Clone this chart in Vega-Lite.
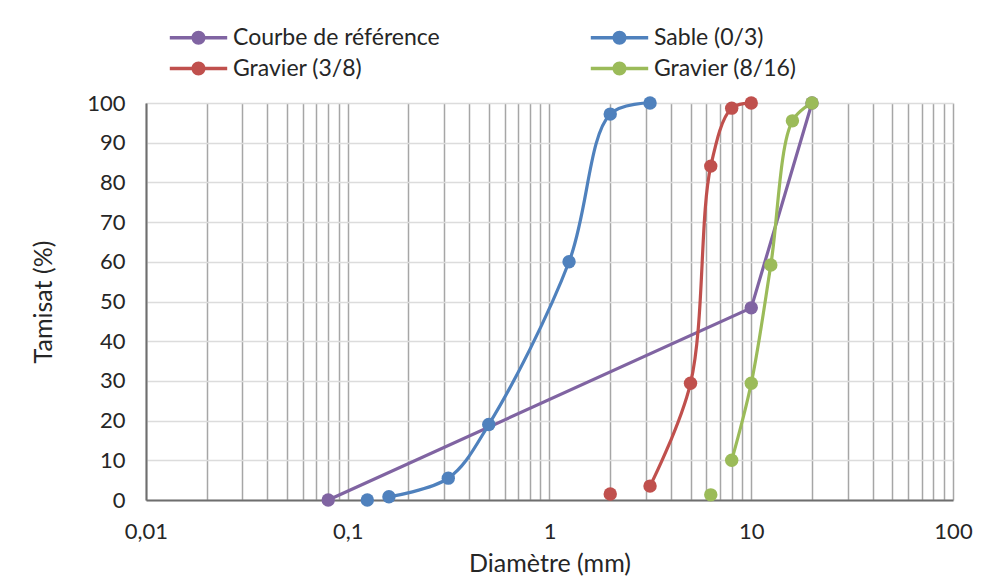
{
  "$schema": "https://vega.github.io/schema/vega-lite/v6.json",
  "autosize": "none",
  "width": 807,
  "height": 397,
  "padding": {"left": 146, "top": 103, "right": 29, "bottom": 86},
  "background": "white",
  "data": {
    "values": [
      {"serie": "Courbe de référence", "d": 0.08, "t": 0, "n": 1},
      {"serie": "Courbe de référence", "d": 10, "t": 48.4, "n": 2},
      {"serie": "Courbe de référence", "d": 20, "t": 100, "n": 3},
      {"serie": "Sable (0/3)", "d": 0.125, "t": 0, "n": 1},
      {"serie": "Sable (0/3)", "d": 0.16, "t": 0.8, "n": 2},
      {"serie": "Sable (0/3)", "d": 0.315, "t": 5.5, "n": 3},
      {"serie": "Sable (0/3)", "d": 0.5, "t": 19, "n": 4},
      {"serie": "Sable (0/3)", "d": 1.25, "t": 60, "n": 5},
      {"serie": "Sable (0/3)", "d": 2, "t": 97.2, "n": 6},
      {"serie": "Sable (0/3)", "d": 3.15, "t": 100, "n": 7},
      {"serie": "Gravier (3/8)", "d": 2, "t": 1.5, "n": 1},
      {"serie": "Gravier (3/8)", "d": 3.15, "t": 3.5, "n": 2},
      {"serie": "Gravier (3/8)", "d": 5, "t": 29.4, "n": 3},
      {"serie": "Gravier (3/8)", "d": 6.3, "t": 84.1, "n": 4},
      {"serie": "Gravier (3/8)", "d": 8, "t": 98.7, "n": 5},
      {"serie": "Gravier (3/8)", "d": 10, "t": 100, "n": 6},
      {"serie": "Gravier (8/16)", "d": 6.3, "t": 1.3, "n": 1},
      {"serie": "Gravier (8/16)", "d": 8, "t": 10, "n": 2},
      {"serie": "Gravier (8/16)", "d": 10, "t": 29.4, "n": 3},
      {"serie": "Gravier (8/16)", "d": 12.5, "t": 59.2, "n": 4},
      {"serie": "Gravier (8/16)", "d": 16, "t": 95.5, "n": 5},
      {"serie": "Gravier (8/16)", "d": 20, "t": 100, "n": 6}
    ]
  },
  "encoding": {
    "x": {
      "field": "d", "type": "quantitative",
      "scale": {"type": "log", "domain": [0.01, 100], "nice": false},
      "axis": {
        "title": "Diamètre (mm)",
        "values": [0.01,0.02,0.03,0.04,0.05,0.06,0.07,0.08,0.09,0.1,0.2,0.3,0.4,0.5,0.6,0.7,0.8,0.9,1,2,3,4,5,6,7,8,9,10,20,30,40,50,60,70,80,90,100],
        "labelExpr": "indexof([0.01,0.1,1,10,100], datum.value) >= 0 ? replace(format(datum.value, '~g'), '.', ',') : ''",
        "labelOverlap": false,
        "labelFlush": false,
        "labelPadding": 21,
        "titlePadding": 9,
        "gridColor": "#a6a6a6",
        "gridWidth": 1.5,
        "ticks": false,
        "domainColor": "#6e6e6e",
        "domainWidth": 2
      }
    },
    "y": {
      "field": "t", "type": "quantitative",
      "scale": {"domain": [0, 100], "nice": false},
      "axis": {
        "title": "Tamisat (%)",
        "values": [0,10,20,30,40,50,60,70,80,90,100],
        "labelPadding": 21,
        "titlePadding": 30,
        "gridColor": "#dcdcdc",
        "gridWidth": 1.5,
        "ticks": false,
        "domainColor": "#6e6e6e",
        "domainWidth": 2
      }
    },
    "color": {
      "field": "serie", "type": "nominal",
      "scale": {
        "domain": ["Courbe de référence", "Sable (0/3)", "Gravier (3/8)", "Gravier (8/16)"],
        "range": ["#8064A2", "#4F81BD", "#C0504D", "#9BBB59"]
      },
      "legend": {
        "title": null,
        "orient": "none",
        "legendX": 41,
        "legendY": -77,
        "direction": "horizontal",
        "columns": 2,
        "columnPadding": 150,
        "rowPadding": 7,
        "symbolType": "M-4.1,-0.25H4.1V0.25H-4.1Z M1,0A1,1,0,1,1,-1,0A1,1,0,1,1,1,0Z",
        "symbolSize": 196,
        "symbolStrokeWidth": 0,
        "symbolOpacity": 1,
        "labelFontSize": 23,
        "labelLimit": 400,
        "labelOffset": 23,
        "labelColor": "#262626"
      }
    }
  },
  "layer": [
    {
      "transform": [{"filter": "datum.serie == 'Courbe de référence'"}],
      "mark": {"type": "line", "strokeWidth": 3.2, "interpolate": "linear"}
    },
    {
      "transform": [{"filter": "datum.serie != 'Courbe de référence' && datum.n > 1"}],
      "mark": {"type": "line", "strokeWidth": 3.2, "interpolate": "catmull-rom"}
    },
    {
      "mark": {"type": "point", "filled": true, "opacity": 1, "size": 180}
    }
  ],
  "config": {
    "font": "Lato",
    "view": {"stroke": null},
    "axis": {
      "labelFontSize": 22,
      "titleFontSize": 25,
      "titleFontWeight": "normal",
      "labelColor": "#262626",
      "titleColor": "#262626"
    }
  }
}
